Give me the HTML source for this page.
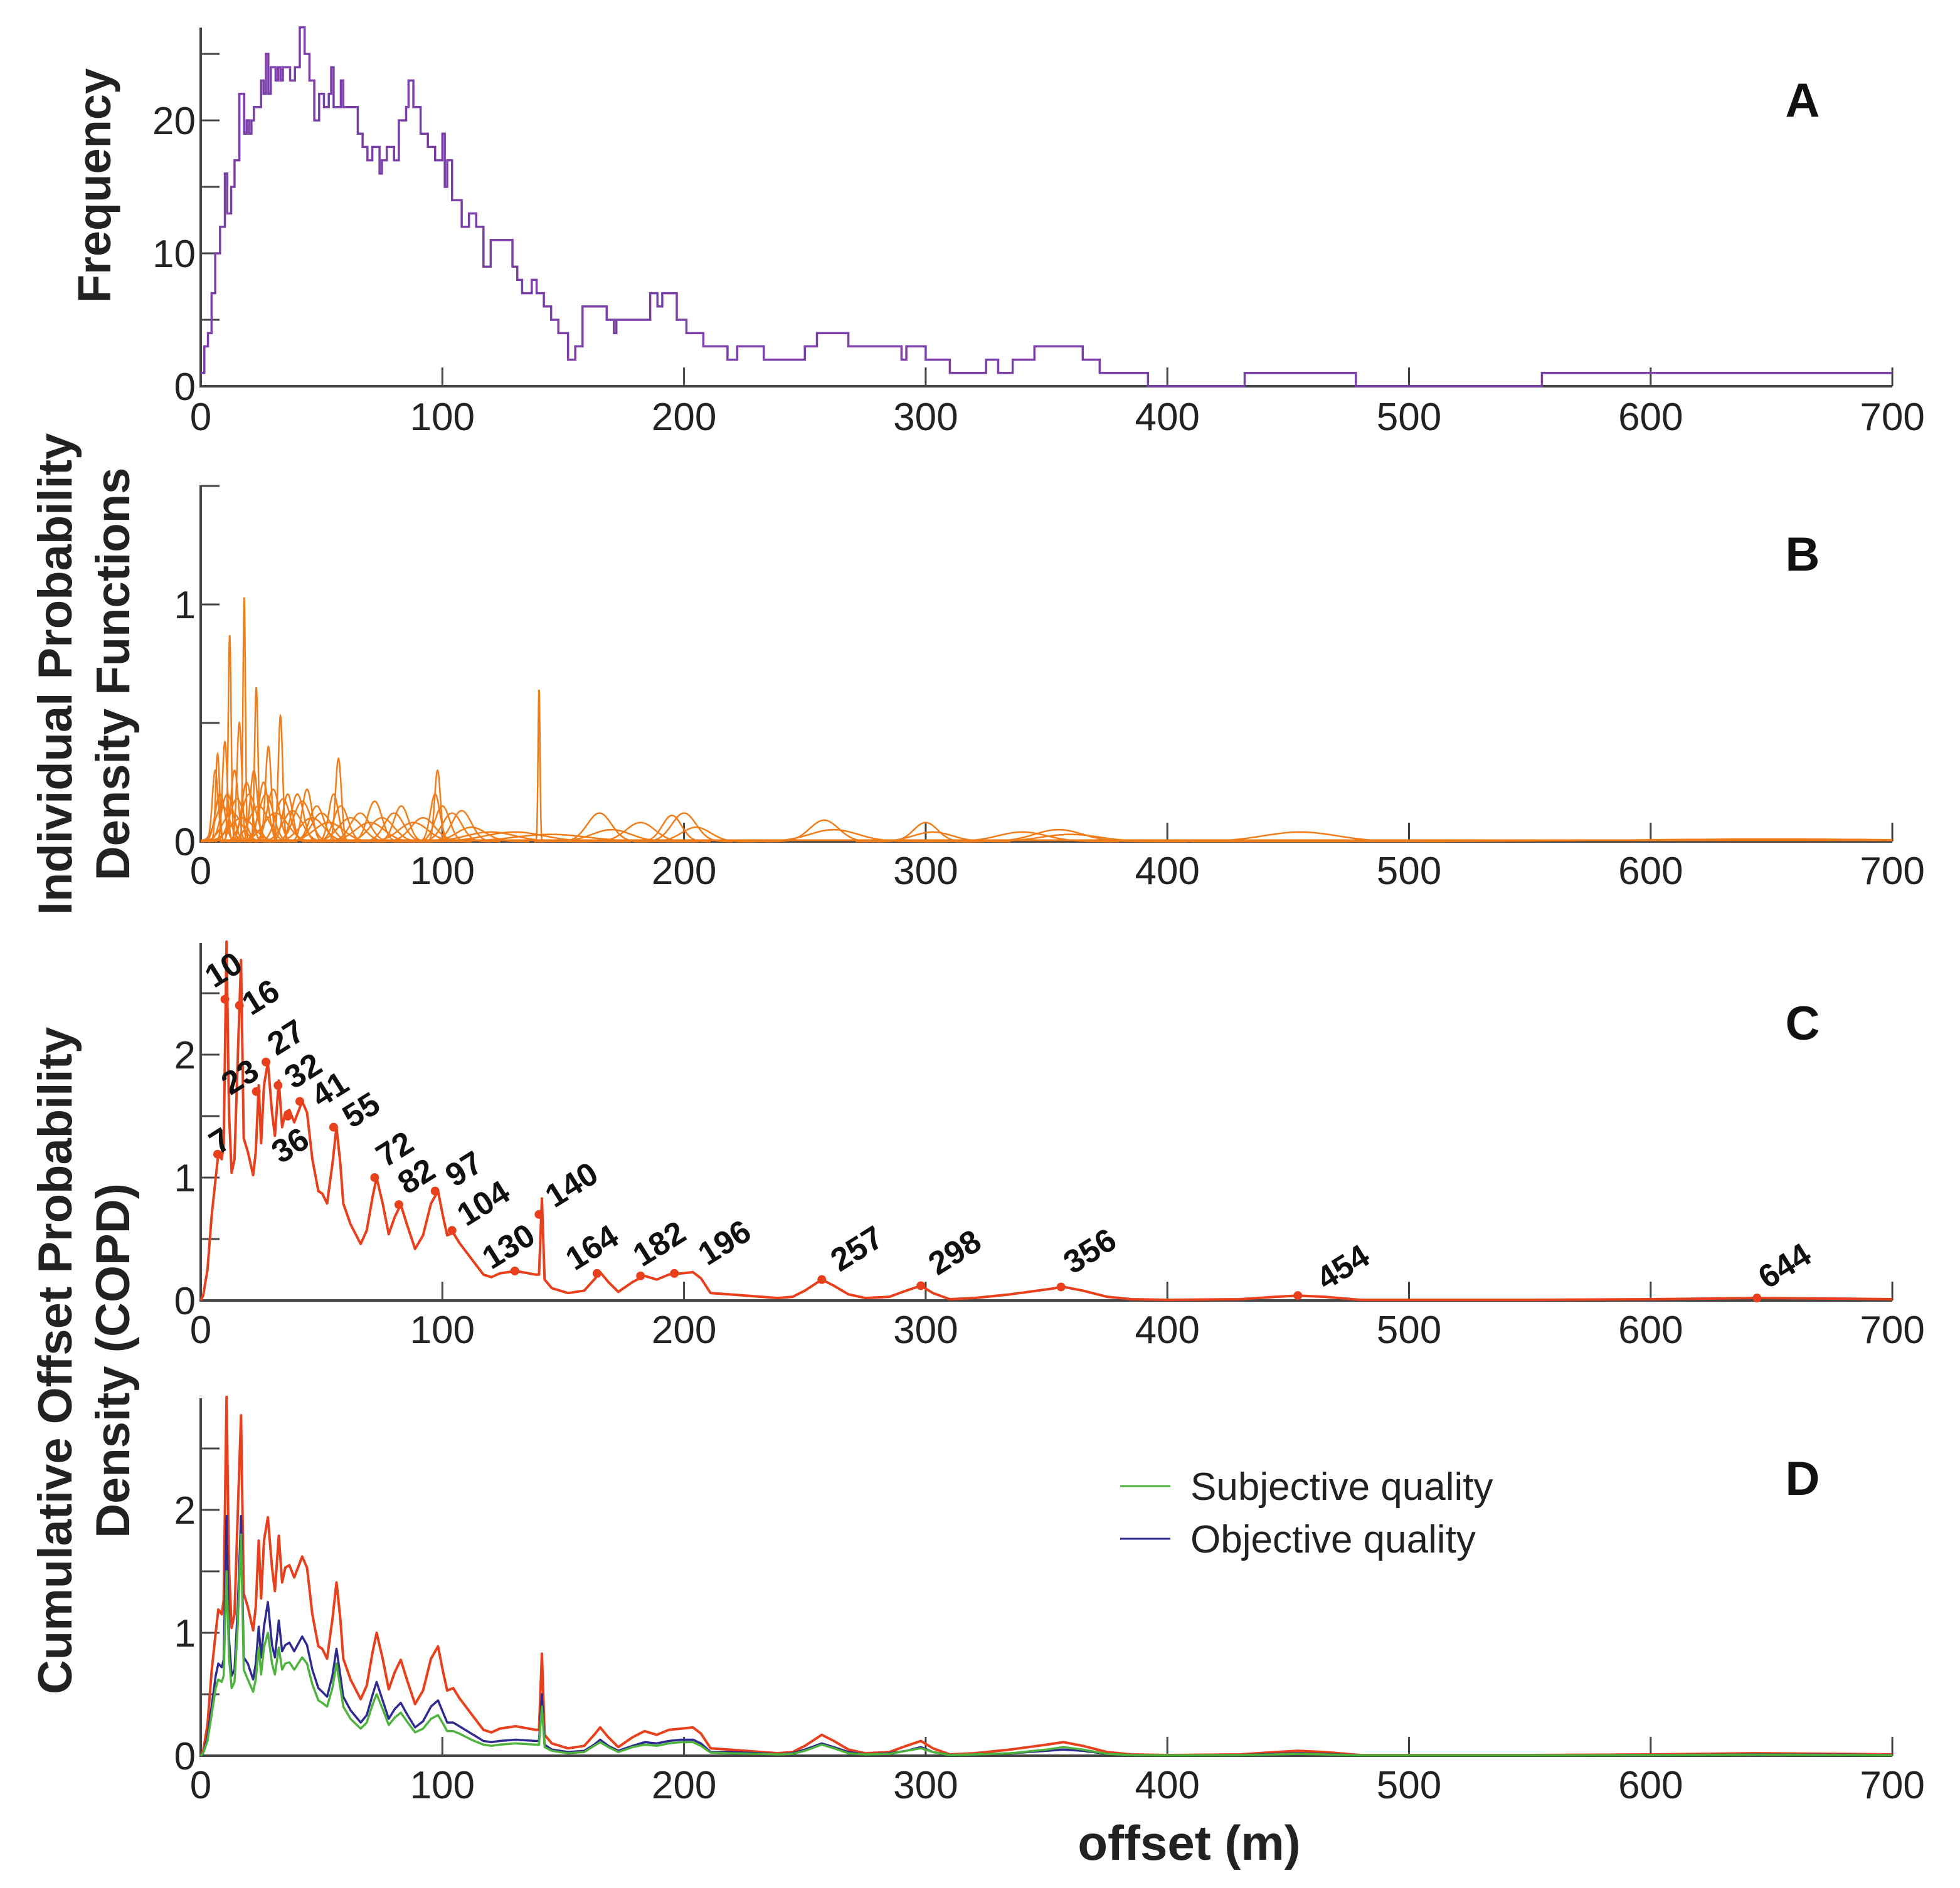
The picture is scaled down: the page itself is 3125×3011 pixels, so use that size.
<!DOCTYPE html>
<html><head><meta charset="utf-8"><style>
html,body{margin:0;padding:0;background:#fff;}
svg{display:block;font-family:"Liberation Sans",sans-serif;}
</style></head><body>
<svg id="chart" width="3125" height="3011" viewBox="0 0 3125 3011" xmlns="http://www.w3.org/2000/svg">
<rect width="3125" height="3011" fill="#fff"/>
<text transform="translate(176,296) rotate(-90)" text-anchor="middle" font-size="74" font-weight="bold" fill="#222">Frequency</text>
<text transform="translate(114,1075) rotate(-90)" text-anchor="middle" font-size="76" font-weight="bold" fill="#222">Individual Probability</text>
<text transform="translate(206,1075) rotate(-90)" text-anchor="middle" font-size="76" font-weight="bold" fill="#222">Density Functions</text>
<text transform="translate(114,2170) rotate(-90)" text-anchor="middle" font-size="76" font-weight="bold" fill="#222">Cumulative Offset Probability</text>
<text transform="translate(206,2170) rotate(-90)" text-anchor="middle" font-size="76" font-weight="bold" fill="#222">Density (COPD)</text>
<text x="1896" y="2966" text-anchor="middle" font-size="78" font-weight="bold" fill="#222">offset (m)</text>
<g>
<line x1="1786" y1="2370" x2="1866" y2="2370" stroke="#4db33d" stroke-width="3"/>
<text x="1898" y="2392" font-size="62" fill="#222">Subjective quality</text>
<line x1="1786" y1="2454" x2="1866" y2="2454" stroke="#2e2a8f" stroke-width="3"/>
<text x="1898" y="2476" font-size="62" fill="#222">Objective quality</text>
</g>
</svg>
<script>
// Panel A histogram (step): start x of each step and its count
const histX = [0,1.5,3,4.5,6,8,10,11,12.6,14,16,18,19,20,21,22,25,26,27,28,29,31,32,33,34,37,39,41,43,45,47,49,51,53,54,55,58,59,65,67,69,71,74,75,77,80,82,85,86,88,91,94,97,100,101,102,104,108,111,114,117,120,129,131,133,137,139,142,145,148,152,155,158,160,168,171,172,186,189,191,197,201,208,210,218,222,233,250,255,268,290,292,300,310,325,330,336,345,365,372,392,432,478,555,700];
const histY = [1,3,4,7,10,12,16,13,15,17,22,19,20,19,20,21,23,22,25,22,24,23,24,23,24,23,24,27,25,23,20,22,21,22,24,21,23,21,19,18,17,18,16,17,18,17,20,21,23,21,19,18,17,19,15,17,14,12,13,12,9,11,9,8,7,8,7,6,5,4,2,3,6,6,5,4,5,7,6,7,5,4,3,3,2,3,2,3,4,3,2,3,2,1,2,1,2,3,2,1,0,1,0,1,1];
const histYTicks = [0,10,20];
const histYMinor = [5,15,25];
// Panel B individual PDFs
const pdfMu    = [6,7,8,9,10,11,12,13,14,15,16,17,18,19,20,22,23,24,26,27,28,30,31,33,34,36,38,40,42,44,46,48,50,53,55,57,58,62,66,70,72,75,80,83,88,92,97,98,100,104,108,112,120,130,140,145,165,170,182,195,200,205,258,262,300,303,340,355,360,455,650];
const pdfSigma = [1.2,0.8,2,3,1,2.5,0.6,4,1.5,3,1,5,0.5,2,3,1.5,0.7,4,2,3,1.2,2.5,5,0.9,3,2,4,2.5,3.5,2,5,3,4,6,2,1.2,3,5,4,6,3,5,4,3,6,5,2,1.2,3,4,4,6,10,12,0.4,15,5,8,6,4,5,6,6,10,5,8,10,10,12,15,60];
const pdfPeak  = [0.3,0.37,0.2,0.15,0.42,0.2,0.87,0.12,0.3,0.18,0.5,0.1,1.03,0.25,0.2,0.3,0.65,0.15,0.25,0.2,0.4,0.22,0.12,0.53,0.18,0.2,0.13,0.2,0.17,0.22,0.1,0.15,0.12,0.08,0.2,0.35,0.15,0.1,0.12,0.08,0.17,0.1,0.12,0.15,0.08,0.1,0.2,0.3,0.15,0.12,0.13,0.06,0.04,0.04,0.64,0.03,0.12,0.05,0.08,0.11,0.12,0.06,0.09,0.05,0.08,0.04,0.04,0.05,0.03,0.04,0.01];
// Panel C / D curves
const copdX = [0,1,2.8,4.5,6.2,7.3,8.7,9.5,10.7,11.7,12.8,14,15.3,16.7,17.8,19.5,21.7,22.8,24,25,26.2,27.8,29.5,30.7,32.3,33.7,35,36.7,38.7,42,44,46.2,48.7,50.3,52.3,54.5,56.2,57.8,59,62,66.2,68.7,71.2,72.8,75.3,77.8,80.3,82.8,85.3,88.7,92,95.3,98.2,100.3,102,104.5,107,112,117,120.3,123.7,130.3,138.7,140,141.2,142.3,145.3,152,158.7,162.8,165.3,168.7,172.8,178.7,183.7,188.7,193.7,198.7,203.7,207,211,218.7,232,238.7,245,250,257,262,268,275,285,292,298,303,310,320,335,350,357,365,375,385,400,430,445,454,465,480,550,600,644,680,700];
const copdY = [0,0.04,0.25,0.68,1.0,1.19,1.15,1.26,2.92,1.53,1.04,1.15,1.96,2.77,1.32,1.21,1.02,1.21,1.75,1.28,1.75,1.94,1.53,1.34,1.79,1.41,1.53,1.55,1.45,1.62,1.53,1.15,0.89,0.87,0.79,1.11,1.41,1.11,0.79,0.62,0.46,0.57,0.85,1.0,0.79,0.54,0.68,0.78,0.62,0.42,0.53,0.79,0.89,0.68,0.53,0.55,0.47,0.34,0.21,0.19,0.22,0.24,0.21,0.21,0.83,0.17,0.1,0.06,0.08,0.17,0.23,0.15,0.07,0.15,0.2,0.17,0.21,0.22,0.23,0.18,0.06,0.05,0.03,0.02,0.03,0.08,0.17,0.12,0.05,0.02,0.03,0.08,0.12,0.06,0.01,0.02,0.05,0.09,0.11,0.08,0.03,0.01,0.005,0.01,0.03,0.04,0.03,0.005,0.005,0.01,0.02,0.015,0.01];
const objY = [0,0.02,0.15,0.4,0.65,0.75,0.72,0.78,1.95,0.95,0.65,0.7,1.2,1.95,0.8,0.75,0.62,0.75,1.05,0.8,1.05,1.25,0.9,0.8,1.1,0.85,0.9,0.92,0.85,0.97,0.9,0.7,0.55,0.52,0.48,0.65,0.87,0.65,0.48,0.37,0.27,0.33,0.5,0.6,0.45,0.3,0.38,0.43,0.34,0.23,0.28,0.4,0.45,0.35,0.27,0.27,0.24,0.18,0.12,0.11,0.12,0.13,0.12,0.12,0.5,0.09,0.05,0.03,0.04,0.09,0.13,0.08,0.04,0.08,0.11,0.1,0.12,0.13,0.13,0.1,0.03,0.03,0.02,0.01,0.02,0.05,0.1,0.07,0.03,0.01,0.02,0.04,0.07,0.03,0.005,0.01,0.02,0.04,0.05,0.04,0.015,0.005,0.003,0.005,0.015,0.02,0.015,0.003,0.003,0.005,0.01,0.008,0.005];
const subjY = [0,0.02,0.12,0.33,0.55,0.62,0.6,0.65,1.5,0.8,0.55,0.6,1.05,1.8,0.7,0.62,0.52,0.62,0.88,0.66,0.88,1.0,0.75,0.66,0.88,0.7,0.75,0.76,0.7,0.8,0.75,0.58,0.45,0.43,0.4,0.55,0.75,0.55,0.4,0.3,0.22,0.27,0.42,0.5,0.38,0.25,0.31,0.35,0.28,0.19,0.22,0.3,0.33,0.26,0.2,0.2,0.18,0.13,0.09,0.08,0.09,0.1,0.09,0.09,0.4,0.07,0.04,0.02,0.03,0.08,0.11,0.07,0.03,0.07,0.09,0.08,0.1,0.11,0.11,0.08,0.025,0.02,0.015,0.01,0.015,0.04,0.09,0.06,0.02,0.01,0.015,0.04,0.06,0.03,0.005,0.01,0.02,0.05,0.07,0.05,0.015,0.005,0.003,0.005,0.01,0.015,0.01,0.003,0.003,0.005,0.008,0.006,0.004];
const peakLabels = ["7","10","16","23","27","32","36","41","55","72","82","97","104","130","140","164","182","196","257","298","356","454","644"];
const peakX = [7,10,16,23,27,32,36,41,55,72,82,97,104,130,140,164,182,196,257,298,356,454,644];
const peakY = [1.19,2.45,2.4,1.7,1.94,1.75,1.5,1.62,1.41,1.0,0.78,0.89,0.57,0.24,0.7,0.22,0.2,0.22,0.17,0.12,0.11,0.04,0.02];
const labelDx = [6,0,36,-24,34,42,6,50,46,34,30,48,52,-8,54,-6,32,82,58,56,48,74,46];
const labelDy = [-18,-44,-10,-20,-36,-20,50,-16,-24,-42,-42,-32,-40,-36,-44,-38,-48,-46,-46,-50,-54,-42,-48];
const xTicks = [0,100,200,300,400,500,600,700];
const probYTicks = [0,1,2];
const probYMinor = [0.5,1.5,2.5];
const pdfYTicks = [0,1];
const pdfYMinor = [0.5,1.5];

const NS = "http://www.w3.org/2000/svg";
const svg = document.getElementById('chart');
const X = v => 320 + v * 3.853;
function mk(tag, attrs, parent){ const e=document.createElementNS(NS,tag); for(const k in attrs) e.setAttribute(k,attrs[k]); (parent||svg).appendChild(e); return e; }

function axes(name, y0, unit, top, yTicks, yMinor, xLabY, letter, letterY){
  const g = mk('g',{});
  
  
  const Y = v => y0 - v*unit;
  const yl = mk('line',{x1:320,y1:top,x2:320,y2:y0,stroke:'#444','stroke-width':4},g);
  
  
  const xl = mk('line',{x1:318,y1:y0,x2:X(700),y2:y0,stroke:'#444','stroke-width':4},g);
  
  
  xTicks.forEach(t=>{
    if(t>0){ const tk=mk('line',{x1:X(t),y1:y0,x2:X(t),y2:y0-30,stroke:'#444','stroke-width':3},g);
      
       }
    const tl = mk('text',{x:X(t),y:xLabY,'text-anchor':'middle','font-size':62,fill:'#222'},g);
    tl.textContent = t;
    
    
  });
  yTicks.concat(yMinor).forEach(t=>{
    const tk=mk('line',{x1:320,y1:Y(t),x2:350,y2:Y(t),stroke:'#444','stroke-width':3},g);
    
    
  });
  yTicks.forEach(t=>{
    const tl = mk('text',{x:312,y:Y(t)+22,'text-anchor':'end','font-size':62,fill:'#222'},g);
    tl.textContent = t;
    
    
  });
  const L = mk('text',{x:2874,y:letterY,'text-anchor':'middle','font-size':76,'font-weight':'bold',fill:'#111'},g);
  L.textContent = letter;
  
  
  return Y;
}

// Panel A
const YA = axes('panel-a', 616, 21.2, 44, histYTicks, histYMinor, 686, 'A', 186);
let d = '';
histX.forEach((x,i)=>{
  if(i===histX.length-1) return;
  const y = YA(histY[i]);
  d += (i===0 ? 'M'+X(x)+' '+y : ' V'+y) + ' H' + X(histX[i+1]);
});
const hp = mk('path',{d:d,fill:'none',stroke:'#7b3fa8','stroke-width':3.5});



// Panel B
const YB = axes('panel-b', 1342, 378, 774, pdfYTicks, pdfYMinor, 1410, 'B', 910);
pdfMu.forEach((mu,i)=>{
  const s = pdfSigma[i], p = pdfPeak[i];
  const a = Math.max(0, mu-4*s), b = Math.min(700, mu+4*s);
  const n = 80; let pd='';
  for(let k=0;k<=n;k++){ const x=a+(b-a)*k/n; const y=p*Math.exp(-((x-mu)*(x-mu))/(2*s*s)); pd += (k?' L':'M')+X(x).toFixed(1)+' '+YB(y).toFixed(1); }
  const c = mk('path',{d:pd,fill:'none',stroke:'#f07d1a','stroke-width':2.5});
  
  
});
const bBase = mk('line',{x1:320,y1:1340,x2:X(700),y2:1340,stroke:'#f07d1a','stroke-width':3});



function linePath(xs, ys, Y){ return xs.map((x,i)=>(i?'L':'M')+X(x).toFixed(1)+' '+Y(ys[i]).toFixed(1)).join(' '); }

// Panel C
const YC = axes('panel-c', 2074, 196, 1504, probYTicks, probYMinor, 2142, 'C', 1658);
const cp = mk('path',{d:linePath(copdX,copdY,YC),fill:'none',stroke:'#e8401c','stroke-width':4,'stroke-linejoin':'round'});


peakX.forEach((px,i)=>{
  const cx = X(px), cy = YC(peakY[i]);
  const m = mk('circle',{cx:cx,cy:cy,r:7,fill:'#e8401c'});
  
  
  const tx = cx + labelDx[i], ty = cy + labelDy[i];
  const t = mk('text',{x:0,y:0,transform:'translate('+tx+','+ty+') rotate(-32)','text-anchor':'middle','dominant-baseline':'middle','font-size':52,'font-weight':'bold',fill:'#111'});
  t.textContent = peakLabels[i];
  
  
});

// Panel D
const YD = axes('panel-d', 2800, 196, 2230, probYTicks, probYMinor, 2868, 'D', 2384);
const dr = mk('path',{d:linePath(copdX,copdY,YD),fill:'none',stroke:'#e8401c','stroke-width':4,'stroke-linejoin':'round'});


const db = mk('path',{d:linePath(copdX,objY,YD),fill:'none',stroke:'#2e2a8f','stroke-width':3.5,'stroke-linejoin':'round'});


const dg = mk('path',{d:linePath(copdX,subjY,YD),fill:'none',stroke:'#4db33d','stroke-width':3.5,'stroke-linejoin':'round'});


</script>
</body></html>
